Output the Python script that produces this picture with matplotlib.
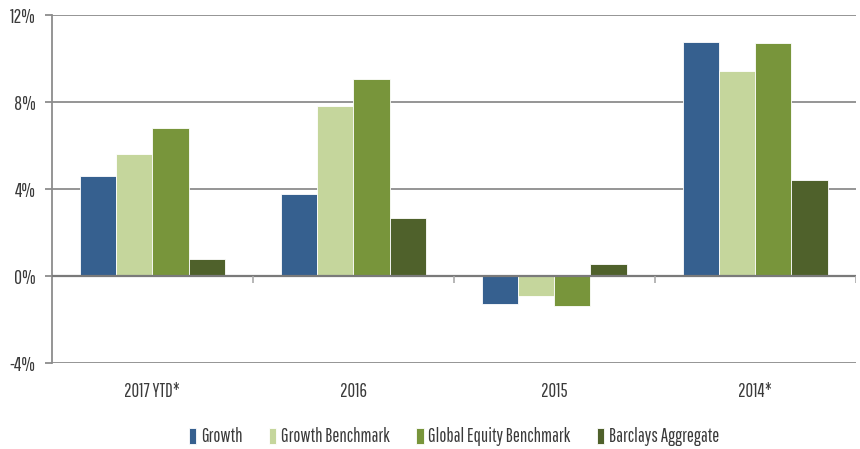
import matplotlib.pyplot as plt
import numpy as np
from matplotlib.ticker import FuncFormatter

plt.rcParams['font.family'] = ['Pathway Gothic One', 'DejaVu Sans']

categories = ["2017 YTD*", "2016", "2015", "2014*"]
growth = [4.6, 3.75, -1.3, 10.78]
growth_bench = [5.6, 7.83, -0.9, 9.45]
global_equity = [6.8, 9.05, -1.4, 10.7]
barclays = [0.8, 2.65, 0.55, 4.4]

series = [
    ("Growth", growth, "#36608f"),
    ("Growth Benchmark", growth_bench, "#c5d69c"),
    ("Global Equity Benchmark", global_equity, "#78953b"),
    ("Barclays Aggregate", barclays, "#4f612b"),
]

grid_col = "#8c8c8c"
text_col = "#3a3a3a"

fig = plt.figure(figsize=(8.6, 4.49), dpi=100)
ax = fig.add_axes([0.0605, 0.1915, 0.9345, 0.775])

x = np.arange(len(categories))
w = 0.18
for i, (name, vals, col) in enumerate(series):
    ax.bar(x + (i - 1.5) * w, vals, w, color=col, label=name,
           edgecolor="white", linewidth=0.6, zorder=3)

ax.set_ylim(-4, 12)
ax.set_xlim(-0.5, len(categories) - 0.5)
ax.set_yticks([-4, 0, 4, 8, 12])
ax.yaxis.set_major_formatter(FuncFormatter(lambda v, p: f"{v:.0f}%"))
ax.grid(axis="y", color=grid_col, linewidth=1.3, zorder=0)
ax.axhline(0, color="#7a7a7a", linewidth=1.6, zorder=4)
# category boundary ticks on the zero line
ax.vlines(x + 0.5, -0.3, 0, color="#aaaaaa", linewidth=1.2, zorder=4)

ax.set_xticks(x)
ax.set_xticklabels(categories)
for s in ["top", "right", "bottom"]:
    ax.spines[s].set_visible(False)
ax.spines["left"].set_color(grid_col)
ax.spines["left"].set_linewidth(1.3)
ax.tick_params(axis="y", length=5, color=grid_col, width=1.3, labelsize=14,
               labelcolor=text_col, pad=7)
ax.tick_params(axis="x", length=0, labelsize=13.5, labelcolor=text_col, pad=14)

leg = fig.legend(loc="center", bbox_to_anchor=(0.528, 0.027), ncol=4, frameon=False,
                 handlelength=0.4, handleheight=0.9, handletextpad=0.25,
                 columnspacing=1.4, fontsize=13.5)
for t in leg.get_texts():
    t.set_color(text_col)

fig.savefig("out.png", dpi=100)
